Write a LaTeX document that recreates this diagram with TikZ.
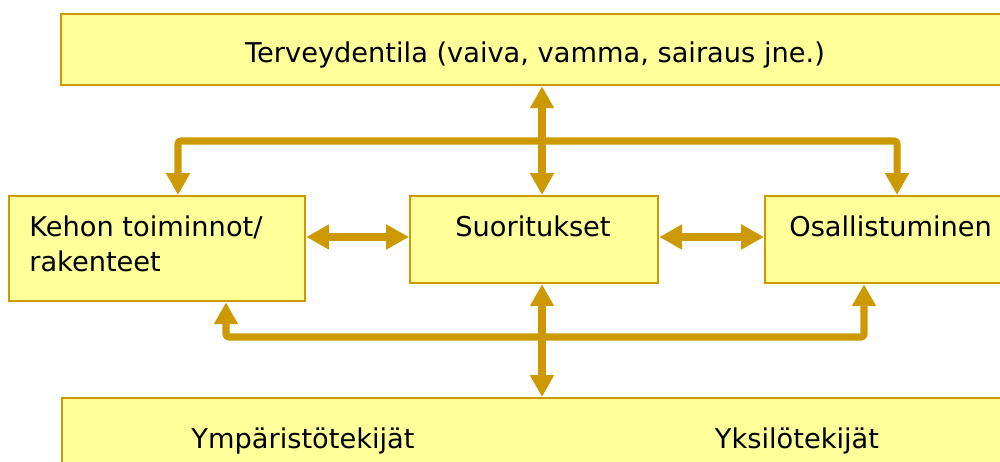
\documentclass[tikz,border=0pt]{standalone}
\usepackage{fontspec}
\setmainfont{DejaVu Sans}
\usetikzlibrary{arrows.meta}
\definecolor{boxfill}{HTML}{FFFF99}
\definecolor{gold}{HTML}{CC9900}
\tikzset{
  box/.style={draw=gold, line width=1.3pt, fill=boxfill, inner sep=0pt, anchor=north west},
  lbl/.style={font=\fontsize{15.5}{19}\selectfont, inner sep=0pt, text=black},
  conn/.style={draw=gold, line width=4pt, line join=round, rounded corners=1.5pt,
    {Triangle[width=13pt,length=12.5pt]}-{Triangle[width=13pt,length=12.5pt]}},
  side/.style={draw=gold, line width=4.6pt,
    {Triangle[width=13.5pt,length=13pt]}-{Triangle[width=13.5pt,length=13pt]}}
}
\begin{document}
\begin{tikzpicture}[x=0.02cm,y=-0.02cm]
\useasboundingbox (0,0) rectangle (1000,462);
\clip (0,0) rectangle (1000,462);
% boxes
\node[box, minimum width=980*0.02cm, minimum height=71*0.02cm] (T) at (60,13) {};
\node[box, minimum width=296*0.02cm, minimum height=105*0.02cm] (L) at (8,195) {};
\node[box, minimum width=248*0.02cm, minimum height=87*0.02cm] (S) at (409,195) {};
\node[box, minimum width=260*0.02cm, minimum height=87*0.02cm] (R) at (764,195) {};
\node[box, minimum width=980*0.02cm, minimum height=100*0.02cm] (B) at (61,397) {};
% texts
\node[lbl, anchor=base] (tT) at (535,63) {Terveydentila (vaiva, vamma, sairaus jne.)};
\node[lbl, anchor=base west] (tL1) at (29,237) {Kehon toiminnot/};
\node[lbl, anchor=base west] (tL2) at (29,272) {rakenteet};
\node[lbl, anchor=base] (tS) at (533,237) {Suoritukset};
\node[lbl, anchor=base west] (tR) at (789,237) {Osallistuminen};
\node[lbl, anchor=base] (tB1) at (303,448) {Ympäristötekijät};
\node[lbl, anchor=base] (tB2) at (797,448) {Yksilötekijät};
% connector points
\coordinate (tl) at (178,141);
\coordinate (tr) at (897,141);
\coordinate (bl) at (226,337);
\coordinate (br) at (864,337);
% connectors
\draw[conn] (T.south -| 542,0) -- (S.north -| 542,0);
\draw[conn] (L.north -| tl) -- (tl) -- (tr) -- (R.north -| tr);
\draw[conn] (L.south -| bl) -- (bl) -- (br) -- (R.south -| br);
\draw[conn] (S.south -| 542,0) -- (B.north -| 542,0);
\draw[side] (L.east |- 0,237) -- (S.west |- 0,237);
\draw[side] (S.east |- 0,237) -- (R.west |- 0,237);
\end{tikzpicture}
\end{document}
